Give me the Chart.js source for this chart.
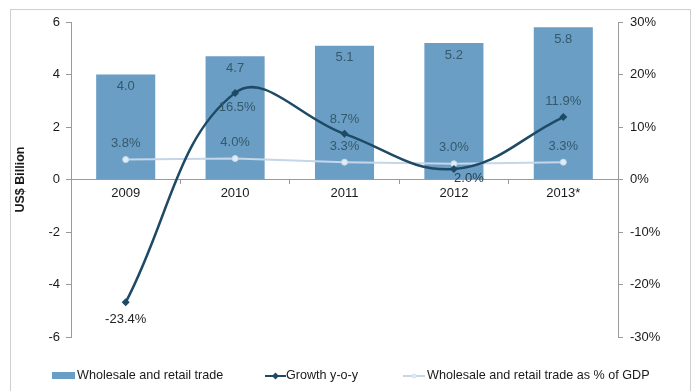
<!DOCTYPE html>
<html>
<head>
<meta charset="utf-8">
<script src="https://cdn.jsdelivr.net/npm/chart.js@4/dist/chart.umd.min.js"></script>
<style>
  html, body { margin: 0; padding: 0; background: #ffffff; }
  #wrap { width: 695px; height: 391px; position: relative; }
</style>
</head>
<body>
<div id="wrap"><canvas id="c" width="695" height="391"></canvas></div>
<script>
// Wholesale and retail trade: value (US$ billion), growth and share of GDP
const years = ['2009', '2010', '2011', '2012', '2013*'];
const tradeValue = [4.0, 4.7, 5.1, 5.2, 5.8];
const growthYoY = [-23.4, 16.5, 8.7, 2.0, 11.9];
const shareOfGDP = [3.8, 4.0, 3.3, 3.0, 3.3];
const leftTicks = [-6, -4, -2, 0, 2, 4, 6];
const rightTicks = [-30, -20, -10, 0, 10, 20, 30];

const FONT = "'Liberation Sans', Arial, sans-serif";
const BAR_COLOR = '#6b9ec4';
const GROWTH_COLOR = '#1e4a66';
const GDP_COLOR = '#c4d6e8';
const LABEL_COLOR = '#34596b';
const AXIS_COLOR = '#9a9a9a';

// where each value label sits relative to its mark: [dx, dy]
const barLabelPlacement = tradeValue.map(() => [0, 12]);
const gdpLabelPlacement = shareOfGDP.map(() => [0, -16]);
const growthLabelPlacement = [[0, 17], [2, 15], [0, -14], [15, 9], [0, -16]];

const valueLabels = {
  id: 'valueLabels',
  afterDatasetsDraw(chart) {
    const ctx = chart.ctx;
    ctx.save();
    ctx.font = '13px ' + FONT;
    ctx.textAlign = 'center';
    ctx.textBaseline = 'middle';
    chart.data.datasets.forEach((ds, i) => {
      const meta = chart.getDatasetMeta(i);
      meta.data.forEach((el, j) => {
        const [dx, dy] = ds.labelPlacement[j];
        ctx.fillStyle = (ds.labelColor && ds.labelColor[j]) || LABEL_COLOR;
        ctx.fillText(ds.labelText(ds.data[j]), el.x + dx, el.y + dy);
      });
    });
    ctx.restore();
  }
};

const frameAndLegend = {
  id: 'frameAndLegend',
  beforeDraw(chart) {
    const ctx = chart.ctx;
    ctx.save();
    ctx.strokeStyle = '#cfcfcf';
    ctx.lineWidth = 1;
    ctx.strokeRect(10.5, 9.5, 680, 400);
    ctx.restore();
  },
  afterDraw(chart) {
    const ctx = chart.ctx;
    const ds = chart.data.datasets;
    const y = 376;
    ctx.save();
    ctx.font = '12.6px ' + FONT;
    ctx.textBaseline = 'middle';
    ctx.textAlign = 'left';
    // bars
    ctx.fillStyle = BAR_COLOR;
    ctx.fillRect(52, y - 4, 23, 7);
    ctx.fillStyle = '#1a1a1a';
    ctx.fillText(ds[2].label, 77, y);
    // growth line
    ctx.strokeStyle = GROWTH_COLOR;
    ctx.lineWidth = 2;
    ctx.beginPath(); ctx.moveTo(265, y); ctx.lineTo(286, y); ctx.stroke();
    ctx.fillStyle = GROWTH_COLOR;
    ctx.beginPath();
    ctx.moveTo(275.5, y - 3.5); ctx.lineTo(279, y); ctx.lineTo(275.5, y + 3.5); ctx.lineTo(272, y);
    ctx.closePath(); ctx.fill();
    ctx.fillStyle = '#1a1a1a';
    ctx.fillText(ds[0].label, 286, y);
    // share of GDP line
    ctx.strokeStyle = GDP_COLOR;
    ctx.beginPath(); ctx.moveTo(403, y); ctx.lineTo(425, y); ctx.stroke();
    ctx.fillStyle = '#dbe7f2';
    ctx.beginPath(); ctx.arc(414, y, 2.5, 0, Math.PI * 2); ctx.fill();
    ctx.fillStyle = '#1a1a1a';
    ctx.fillText(ds[1].label, 427, y);
    ctx.restore();
  }
};

new Chart(document.getElementById('c'), {
  data: {
    labels: years,
    datasets: [
      {
        type: 'line',
        label: 'Growth y-o-y',
        data: growthYoY,
        yAxisID: 'y1',
        borderColor: GROWTH_COLOR,
        backgroundColor: GROWTH_COLOR,
        borderWidth: 2.5,
        tension: 0.4,
        pointStyle: 'rectRot',
        pointRadius: 4,
        pointBorderWidth: 0,
        order: 1,
        labelPlacement: growthLabelPlacement,
        labelColor: ['#222222', LABEL_COLOR, LABEL_COLOR, '#2b3f4a', LABEL_COLOR],
        labelText: v => v.toFixed(1) + '%'
      },
      {
        type: 'line',
        label: 'Wholesale and retail trade as % of GDP',
        data: shareOfGDP,
        yAxisID: 'y1',
        borderColor: GDP_COLOR,
        backgroundColor: '#e2ecf5',
        borderWidth: 2,
        tension: 0,
        pointStyle: 'circle',
        pointRadius: 3,
        pointBorderWidth: 1,
        pointBorderColor: '#c9dbeb',
        order: 2,
        labelPlacement: gdpLabelPlacement,
        labelText: v => v.toFixed(1) + '%'
      },
      {
        type: 'bar',
        label: 'Wholesale and retail trade',
        data: tradeValue,
        yAxisID: 'y',
        backgroundColor: BAR_COLOR,
        borderWidth: 0,
        categoryPercentage: 1,
        barPercentage: 0.54,
        order: 3,
        labelPlacement: barLabelPlacement,
        labelText: v => v.toFixed(1)
      }
    ]
  },
  options: {
    responsive: false,
    animation: false,
    devicePixelRatio: 1,
    layout: { padding: { left: 10, right: 0, top: 22, bottom: 54 } },
    plugins: {
      legend: { display: false },
      tooltip: { enabled: false }
    },
    scales: {
      x: {
        type: 'category',
        position: { y: 0 },
        offset: true,
        grid: {
          offset: true,
          drawOnChartArea: false,
          drawTicks: true,
          tickLength: 4,
          color: AXIS_COLOR
        },
        border: { display: true, color: AXIS_COLOR, width: 1 },
        ticks: {
          color: '#1a1a1a',
          font: { family: FONT, size: 13 },
          padding: 2,
          maxRotation: 0
        }
      },
      y: {
        position: 'left',
        min: -6,
        max: 6,
        afterBuildTicks: s => { s.ticks = leftTicks.map(v => ({ value: v })); },
        afterFit: s => { s.width = 61; },
        grid: {
          drawOnChartArea: false,
          drawTicks: true,
          tickLength: 5,
          color: AXIS_COLOR
        },
        border: { display: true, color: AXIS_COLOR, width: 1 },
        ticks: {
          color: '#1a1a1a',
          font: { family: FONT, size: 13 },
          padding: 6
        },
        title: {
          display: true,
          text: 'US$ Billion',
          color: '#1a1a1a',
          font: { family: FONT, size: 12.5, weight: 'bold' },
          padding: { top: 3, bottom: 0 }
        }
      },
      y1: {
        position: 'right',
        min: -30,
        max: 30,
        afterBuildTicks: s => { s.ticks = rightTicks.map(v => ({ value: v })); },
        afterFit: s => { s.width = 77; },
        grid: {
          drawOnChartArea: false,
          drawTicks: true,
          tickLength: 5,
          color: AXIS_COLOR
        },
        border: { display: true, color: AXIS_COLOR, width: 1 },
        ticks: {
          color: '#1a1a1a',
          font: { family: FONT, size: 13 },
          padding: 7,
          callback: v => v + '%'
        }
      }
    }
  },
  plugins: [valueLabels, frameAndLegend]
});
</script>
</body>
</html>
